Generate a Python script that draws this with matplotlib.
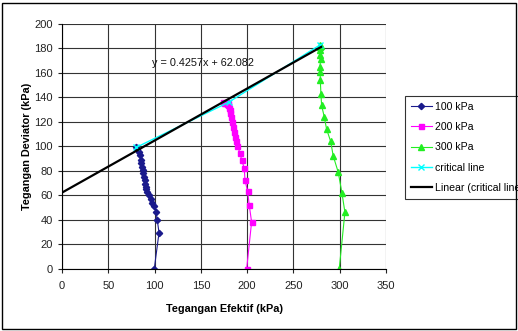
import numpy as np
import matplotlib.pyplot as plt
from matplotlib.patches import Rectangle

plt.rcParams['font.family'] = ['Liberation Sans', 'DejaVu Sans']

# stress paths, effective stress (x) vs deviator stress (y), kPa
p100_x = [99.7, 104.8, 102.9, 101.5, 99.4, 97.5, 95.8, 94.3, 92.1, 91.0, 90.4, 89.8,
          89.6, 88.7, 87.8, 87.0, 86.0, 85.6, 85.3, 84.2, 83.0, 81.3, 79.9]
p100_y = [0, 29.3, 39.7, 46.5, 51.0, 53.8, 56.6, 60.0, 62.8, 64.8, 67.0, 69.5,
          72.4, 75.0, 77.9, 80.5, 83.3, 86.0, 88.8, 92.8, 95.0, 97.5, 99.6]

p200_x = [199.5, 204.8, 202.3, 200.5, 197.6, 196.9, 194.0, 192.2, 189.3, 188.0, 186.8,
          186.0, 185.0, 184.0, 183.0, 182.0, 181.4, 180.5, 179.6, 178.0, 176.0, 174.0,
          175.5, 177.5, 179.0]
p200_y = [0, 38.0, 51.6, 63.0, 72.7, 82.0, 89.0, 94.6, 100.5, 104.0, 107.5,
          111.5, 116.0, 120.0, 124.0, 127.0, 129.5, 131.5, 133.5, 134.5, 135.5, 136.5,
          135.0, 136.0, 135.5]

p300_x = [299.5, 305.6, 302.4, 298.4, 293.0, 290.2, 285.8, 283.3, 280.4, 279.7, 279.0,
          279.0, 278.6, 279.4, 278.8, 278.6, 278.6, 279.5, 278.8]
p300_y = [0, 46.0, 61.8, 78.7, 92.0, 104.0, 114.0, 124.0, 133.5, 143.0, 154.0,
          160.5, 165.0, 171.0, 175.0, 179.0, 181.0, 182.0, 183.0]

crit_x = [80.0, 180.0, 279.0]
crit_y = [99.0, 136.0, 183.0]

# trendline through the critical points
slope, intercept = 0.4257, 62.082
fit_x = np.array([0, 280])

fig = plt.figure(figsize=(5.18, 3.31), dpi=100)
ax = fig.add_axes([0.1197, 0.1888, 0.6255, 0.7387])

ax.plot(p100_x, p100_y, color='#1a1a8c', marker='D', ms=3.2, lw=0.8, label='100 kPa')
ax.plot(p200_x, p200_y, color='#ff00ff', marker='s', ms=3.6, lw=0.8, label='200 kPa')
ax.plot(p300_x, p300_y, color='#22ee22', marker='^', ms=4.2, lw=0.8, label='300 kPa')
ax.plot(crit_x, crit_y, color='#00ffff', marker='x', ms=4, mew=1, lw=1, label='critical line')
ax.plot(fit_x, slope * fit_x + intercept, color='black', lw=1.6,
        label='Linear (critical line)')

ax.text(152, 168, 'y = %.4fx + %.3f' % (slope, intercept), ha='center', va='center',
        fontsize=7.8, color='#111111')

ax.set_xlim(0, 350)
ax.set_ylim(0, 200)
ax.set_xticks(np.arange(0, 351, 50))
ax.set_yticks(np.arange(0, 201, 20))
ax.grid(True, color='#333333', lw=0.8)
ax.set_axisbelow(True)
for s in ['top', 'right']:
    ax.spines[s].set_visible(False)
for s in ['left', 'bottom']:
    ax.spines[s].set_linewidth(0.8)
ax.tick_params(direction='out', length=3, width=0.8, labelsize=8, colors='#222222')
ax.tick_params(axis='x', pad=6)

ax.set_xlabel('Tegangan Efektif (kPa)', fontsize=7.8, fontweight='bold', labelpad=9)
ax.set_ylabel('Tegangan Deviator (kPa)', fontsize=7.8, fontweight='bold', labelpad=2)

leg = ax.legend(loc='upper left', bbox_to_anchor=(405 / 518, 1 - 96 / 331),
                bbox_transform=fig.transFigure, fontsize=7.6, fancybox=False,
                frameon=True, edgecolor='black', handlelength=2.0, borderpad=0.55,
                labelspacing=0.98, handletextpad=0.3, borderaxespad=0)
leg.get_frame().set_linewidth(0.8)

# outer chart border
fig.patches.append(Rectangle((2 / 518, 2 / 331), 514 / 518, 326 / 331, fill=False,
                             edgecolor='black', lw=1, transform=fig.transFigure))

fig.savefig('out.png', dpi=100)
